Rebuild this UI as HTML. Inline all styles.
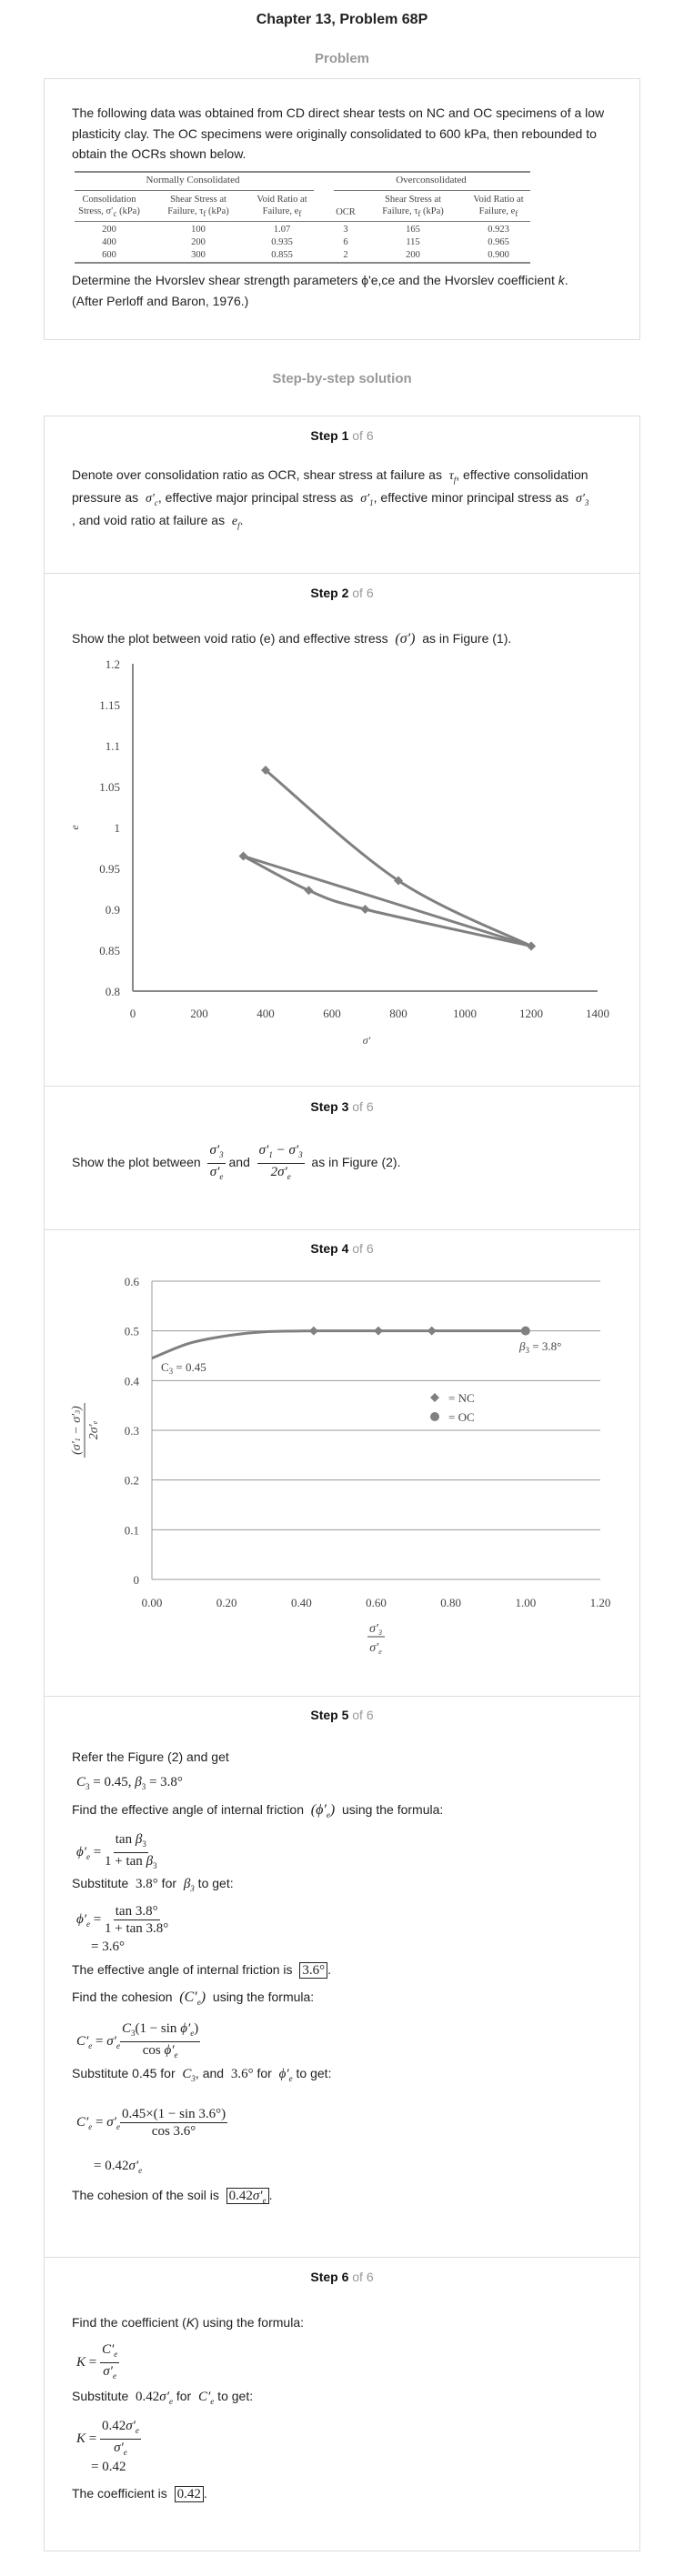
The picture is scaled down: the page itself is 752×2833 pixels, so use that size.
<!DOCTYPE html>
<html><head><meta charset="utf-8">
<style>
*{margin:0;padding:0;box-sizing:border-box}
body{width:752px;height:2833px;background:#fff;position:relative;font-family:"Liberation Sans",Arial,sans-serif;color:#222;overflow:hidden}
.a{position:absolute;white-space:nowrap}
.t{font-size:14px;line-height:20px;left:79px}
.box{position:absolute;border:1px solid #ddd;left:48px;width:656px}
.hr{position:absolute;left:49px;width:654px;height:1px;background:#ddd}
.step{position:absolute;left:0;width:752px;text-align:center;font-weight:bold;font-size:14px;line-height:18px;color:#111}
.step span{font-weight:normal;color:#999}
.m{font-family:"Liberation Serif",serif;font-style:italic}
.mr{font-family:"Liberation Serif",serif}
.fr{display:inline-flex;flex-direction:column;align-items:center;vertical-align:middle;font-family:"Liberation Serif",serif;font-size:15px;line-height:18px}
.fr .n{border-bottom:1px solid #222;padding:0 2px}
.boxed{border:1px solid #222;padding:0 2px;font-family:"Liberation Serif",serif;font-size:15px}
sub{font-size:9px}
.tb{font-family:"Liberation Serif",serif;font-size:10.5px;color:#444;text-align:center;transform:translateX(-50%);line-height:13px}
.tl{position:absolute;height:1px;background:#777}
</style></head><body>
<div class="a" style="left:0;width:752px;text-align:center;top:13px;font-weight:bold;font-size:16px">Chapter 13, Problem 68P</div>
<div class="a" style="left:0;width:752px;text-align:center;top:56px;font-weight:bold;font-size:15px;color:#999">Problem</div>
<div class="box" style="top:86px;height:288px"></div>
<div class="a t" style="top:114px">The following data was obtained from CD direct shear tests on NC and OC specimens of a low</div>
<div class="a t" style="top:137px">plasticity clay. The OC specimens were originally consolidated to 600 kPa, then rebounded to</div>
<div class="a t" style="top:159px">obtain the OCRs shown below.</div>

<div>
<div class="tl" style="left:82px;width:501px;top:188px;height:2px;background:#888"></div>
<div class="a tb" style="left:212px;top:192px;font-size:11px">Normally Consolidated</div>
<div class="a tb" style="left:474px;top:192px;font-size:11px">Overconsolidated</div>
<div class="tl" style="left:82px;width:263px;top:209px"></div>
<div class="tl" style="left:367px;width:216px;top:209px"></div>
<div class="a tb" style="left:120px;top:213px">Consolidation<br>Stress, σ′<sub>c</sub> (kPa)</div>
<div class="a tb" style="left:218px;top:213px">Shear Stress at<br>Failure, τ<sub>f</sub> (kPa)</div>
<div class="a tb" style="left:310px;top:213px">Void Ratio at<br>Failure, e<sub>f</sub></div>
<div class="a tb" style="left:380px;top:227px">OCR</div>
<div class="a tb" style="left:454px;top:213px">Shear Stress at<br>Failure, τ<sub>f</sub> (kPa)</div>
<div class="a tb" style="left:548px;top:213px">Void Ratio at<br>Failure, e<sub>f</sub></div>
<div class="tl" style="left:82px;width:501px;top:243px"></div>
<div class="a tb" style="left:120px;top:246px;line-height:14px">200<br>400<br>600</div>
<div class="a tb" style="left:218px;top:246px;line-height:14px">100<br>200<br>300</div>
<div class="a tb" style="left:310px;top:246px;line-height:14px">1.07<br>0.935<br>0.855</div>
<div class="a tb" style="left:380px;top:246px;line-height:14px">3<br>6<br>2</div>
<div class="a tb" style="left:454px;top:246px;line-height:14px">165<br>115<br>200</div>
<div class="a tb" style="left:548px;top:246px;line-height:14px">0.923<br>0.965<br>0.900</div>
<div class="tl" style="left:82px;width:501px;top:288px;height:2px;background:#888"></div>
</div>

<div class="a t" style="top:298px">Determine the Hvorslev shear strength parameters ϕ'e,ce and the Hvorslev coefficient <i>k</i>.</div>
<div class="a t" style="top:321px">(After Perloff and Baron, 1976.)</div>

<div class="a" style="left:0;width:752px;text-align:center;top:408px;font-weight:bold;font-size:15px;color:#999">Step-by-step solution</div>
<div class="box" style="top:457px;height:2349px"></div>
<div class="hr" style="top:630px"></div>
<div class="hr" style="top:1194px"></div>
<div class="hr" style="top:1352px"></div>
<div class="hr" style="top:1865px"></div>
<div class="hr" style="top:2482px"></div>

<div class="step" style="top:470px">Step 1 <span>of 6</span></div>
<div class="a t" style="top:512px">Denote over consolidation ratio as OCR, shear stress at failure as &nbsp;<span class="m">τ<sub>f</sub></span>, effective consolidation</div>
<div class="a t" style="top:537px">pressure as &nbsp;<span class="m">σ′<sub>c</sub></span>, effective major principal stress as &nbsp;<span class="m">σ′<sub>1</sub></span>, effective minor principal stress as &nbsp;<span class="m">σ′<sub>3</sub></span></div>
<div class="a t" style="top:562px">, and void ratio at failure as &nbsp;<span class="m">e<sub>f</sub></span>.</div>

<div class="step" style="top:643px">Step 2 <span>of 6</span></div>
<div class="a t" style="top:692px">Show the plot between void ratio (e) and effective stress &nbsp;<span class="m" style="font-size:16px">(σ′)</span>&nbsp; as in Figure (1).</div>

<svg class="a" id="c1" style="left:0;top:0" width="752" height="1200" font-family="Liberation Serif, serif" font-size="13" fill="#444"></svg>

<div class="step" style="top:1208px">Step 3 <span>of 6</span></div>
<div class="a t" style="top:1256px;line-height:40px">Show the plot between &nbsp;<span class="fr m"><span class="n">σ′<sub>3</sub></span><span>σ′<sub>e</sub></span></span> and &nbsp;<span class="fr m"><span class="n">σ′<sub>1</sub> − σ′<sub>3</sub></span><span>2σ′<sub>e</sub></span></span>&nbsp; as in Figure (2).</div>

<div class="step" style="top:1364px">Step 4 <span>of 6</span></div>
<svg class="a" id="c2" style="left:0;top:0" width="752" height="1830" font-family="Liberation Serif, serif" font-size="13" fill="#444"></svg>

<div class="step" style="top:1877px">Step 5 <span>of 6</span></div>
<div class="a t" style="top:1922px">Refer the Figure (2) and get</div>
<div class="a t mr" style="top:1950px;left:84px;font-size:15px"><i>C</i><sub>3</sub> = 0.45, <i>β</i><sub>3</sub> = 3.8°</div>
<div class="a t" style="top:1980px">Find the effective angle of internal friction &nbsp;<span class="m" style="font-size:16px">(ϕ′<sub>e</sub>)</span>&nbsp; using the formula:</div>
<div class="a mr" style="top:2014px;left:84px;font-size:15px;line-height:36px"><i>ϕ′<sub>e</sub></i> = <span class="fr"><span class="n">tan <i>β</i><sub>3</sub></span><span>1 + tan <i>β</i><sub>3</sub></span></span></div>
<div class="a t" style="top:2061px">Substitute &nbsp;<span class="mr" style="font-size:15px">3.8°</span> for &nbsp;<span class="m" style="font-size:15px">β<sub>3</sub></span> to get:</div>
<div class="a mr" style="top:2093px;left:84px;font-size:15px;line-height:36px"><i>ϕ′<sub>e</sub></i> = <span class="fr"><span class="n">tan 3.8°</span><span>1 + tan 3.8°</span></span></div>
<div class="a mr" style="top:2131px;left:100px;font-size:15px;line-height:20px">= 3.6°</div>
<div class="a t" style="top:2156px">The effective angle of internal friction is &nbsp;<span class="boxed">3.6°</span>.</div>
<div class="a t" style="top:2186px">Find the cohesion &nbsp;<span class="m" style="font-size:16px">(C′<sub>e</sub>)</span>&nbsp; using the formula:</div>
<div class="a mr" style="top:2222px;left:84px;font-size:15px;line-height:36px"><i>C′<sub>e</sub></i> = <i>σ′<sub>e</sub></i><span class="fr"><span class="n"><i>C</i><sub>3</sub>(1 − sin <i>ϕ′<sub>e</sub></i>)</span><span>cos <i>ϕ′<sub>e</sub></i></span></span></div>
<div class="a t" style="top:2270px">Substitute 0.45 for &nbsp;<span class="m" style="font-size:15px">C<sub>3</sub></span>, and &nbsp;<span class="mr" style="font-size:15px">3.6°</span> for &nbsp;<span class="m" style="font-size:15px">ϕ′<sub>e</sub></span> to get:</div>
<div class="a mr" style="top:2316px;left:84px;font-size:15px;line-height:36px"><i>C′<sub>e</sub></i> = <i>σ′<sub>e</sub></i><span class="fr"><span class="n">0.45×(1 − sin 3.6°)</span><span>cos 3.6°</span></span></div>
<div class="a mr" style="top:2372px;left:103px;font-size:15px;line-height:20px">= 0.42<i>σ′<sub>e</sub></i></div>
<div class="a t" style="top:2404px">The cohesion of the soil is &nbsp;<span class="boxed">0.42<i>σ′<sub>e</sub></i></span>.</div>

<div class="step" style="top:2495px">Step 6 <span>of 6</span></div>
<div class="a t" style="top:2544px">Find the coefficient (<i>K</i>) using the formula:</div>
<div class="a mr" style="top:2575px;left:84px;font-size:15px;line-height:36px"><i>K</i> = <span class="fr"><span class="n"><i>C′<sub>e</sub></i></span><span><i>σ′<sub>e</sub></i></span></span></div>
<div class="a t" style="top:2625px">Substitute &nbsp;<span class="mr" style="font-size:15px">0.42<i>σ′<sub>e</sub></i></span> for &nbsp;<span class="m" style="font-size:15px">C′<sub>e</sub></span> to get:</div>
<div class="a mr" style="top:2659px;left:84px;font-size:15px;line-height:36px"><i>K</i> = <span class="fr"><span class="n">0.42<i>σ′<sub>e</sub></i></span><span><i>σ′<sub>e</sub></i></span></span></div>
<div class="a mr" style="top:2703px;left:100px;font-size:15px;line-height:20px">= 0.42</div>
<div class="a t" style="top:2732px">The coefficient is &nbsp;<span class="boxed">0.42</span>.</div>

<script>
// Chart 1 data
const c1XTicks = [0,200,400,600,800,1000,1200,1400];
const c1YTicks = [0.8,0.85,0.9,0.95,1,1.05,1.1,1.15,1.2];
const c1YLabels = ["0.8","0.85","0.9","0.95","1","1.05","1.1","1.15","1.2"];
const ncStress = [400,800,1200];
const ncVoid = [1.07,0.935,0.855];
const ocStress = [333,530,700,1200];
const ocVoid = [0.965,0.923,0.9,0.855];
const ocChordStress = [333,1200];
const ocChordVoid = [0.965,0.855];
// Chart 2 data
const c2XTicks = [0,0.2,0.4,0.6,0.8,1.0,1.2];
const c2YTicks = [0,0.1,0.2,0.3,0.4,0.5,0.6];
const c2YLabels = ["0","0.1","0.2","0.3","0.4","0.5","0.6"];
const ncRatio = [0.433,0.606,0.749];
const ncStressRatio = [0.5,0.5,0.5];
const ocRatio = [1.0];
const ocStressRatio = [0.5];
const fitRatio = [0,0.1,0.2,0.3,0.433];
const fitValue = [0.445,0.475,0.49,0.498,0.5];

const NS='http://www.w3.org/2000/svg';
function mk(svg,tag,at){const e=document.createElementNS(NS,tag);for(const k in at)e.setAttribute(k,at[k]);svg.appendChild(e);return e;}
function smooth(pts){let d='M'+pts[0][0]+','+pts[0][1];for(let i=0;i<pts.length-1;i++){const p0=pts[i-1]||pts[i],p1=pts[i],p2=pts[i+1],p3=pts[i+2]||p2;const t=0.5/3;d+=' C'+(p1[0]+(p2[0]-p0[0])*t)+','+(p1[1]+(p2[1]-p0[1])*t)+' '+(p2[0]-(p3[0]-p1[0])*t)+','+(p2[1]-(p3[1]-p1[1])*t)+' '+p2[0]+','+p2[1];}return d;}
function diamond(svg,x,y,r,name){const e=mk(svg,'polygon',{points:`${x},${y-r} ${x+r},${y} ${x},${y+r} ${x-r},${y}`,fill:'#808080'});return e;}

// chart 1
(function(){
const s=document.getElementById('c1');
const X=v=>146+v*511/1400, Y=v=>1090-(v-0.8)*900;
mk(s,'line',{x1:X(0),y1:Y(1.2),x2:X(0),y2:Y(0.8),stroke:'#888','stroke-width':2});
mk(s,'line',{x1:X(0),y1:Y(0.8),x2:X(1400),y2:Y(0.8),stroke:'#888','stroke-width':2});
c1YTicks.forEach((v,i)=>{const t=mk(s,'text',{x:132,y:Y(v)+5,'text-anchor':'end'});t.textContent=c1YLabels[i];

});
c1XTicks.forEach(v=>{const t=mk(s,'text',{x:X(v),y:1119,'text-anchor':'middle'});t.textContent=v;

});
const xt=mk(s,'text',{x:403,y:1148,'text-anchor':'middle','font-style':'italic',"font-size":12});xt.textContent="σ'";


const yt=mk(s,'text',{x:86,y:910,'text-anchor':'middle','font-style':'italic',"font-size":12,transform:'rotate(-90 86 910)'});yt.textContent="e";


const nc=mk(s,'path',{d:smooth(ncStress.map((v,i)=>[X(v),Y(ncVoid[i])])),fill:'none',stroke:'#808080','stroke-width':3});


const oc=mk(s,'path',{d:smooth(ocStress.map((v,i)=>[X(v),Y(ocVoid[i])])),fill:'none',stroke:'#808080','stroke-width':3});


const ch=mk(s,'path',{d:smooth(ocChordStress.map((v,i)=>[X(v),Y(ocChordVoid[i])])),fill:'none',stroke:'#808080','stroke-width':3});


ncStress.forEach((v,i)=>diamond(s,X(v),Y(ncVoid[i]),5,'nc-point'));
ocStress.forEach((v,i)=>diamond(s,X(v),Y(ocVoid[i]),5,'oc-point'));
})();

// chart 2
(function(){
const s=document.getElementById('c2');
const X=v=>167+v*493/1.2, Y=v=>1737-v*546.7;
c2YTicks.forEach((v,i)=>{const g=mk(s,'line',{x1:X(0),y1:Y(v),x2:X(1.2),y2:Y(v),stroke:'#999','stroke-width':1});


const t=mk(s,'text',{x:153,y:Y(v)+5,'text-anchor':'end'});t.textContent=c2YLabels[i];

});
mk(s,'line',{x1:X(0),y1:Y(0.6),x2:X(0),y2:Y(0),stroke:'#999','stroke-width':1});
c2XTicks.forEach(v=>{const t=mk(s,'text',{x:X(v),y:1767,'text-anchor':'middle'});t.textContent=v.toFixed(2);

});
const fit=mk(s,'path',{d:smooth(fitRatio.map((v,i)=>[X(v),Y(fitValue[i])])),fill:'none',stroke:'#808080','stroke-width':3});


const all=ncRatio.map((v,i)=>[X(v),Y(ncStressRatio[i])]).concat(ocRatio.map((v,i)=>[X(v),Y(ocStressRatio[i])]));
const ln=mk(s,'path',{d:smooth(all),fill:'none',stroke:'#808080','stroke-width':3});


ncRatio.forEach((v,i)=>diamond(s,X(v),Y(ncStressRatio[i]),5,'nc-point'));
ocRatio.forEach((v,i)=>{const c=mk(s,'circle',{cx:X(v),cy:Y(ocStressRatio[i]),r:5,fill:'#808080'});

});
const l1=mk(s,'text',{x:177,y:1508,'font-size':13});l1.innerHTML='C<tspan font-size="9" dy="3">3</tspan><tspan dy="-3"> = 0.45</tspan>';


const l2=mk(s,'text',{x:571,y:1485,'font-size':13});l2.innerHTML='<tspan font-style="italic">β</tspan><tspan font-size="9" dy="3">3</tspan><tspan dy="-3"> = 3.8°</tspan>';


diamond(s,478,1537,5,'legend-nc-marker');
const lc=mk(s,'circle',{cx:478,cy:1558,r:5,fill:'#808080'});


const t1=mk(s,'text',{x:493,y:1542});t1.textContent='= NC';


const t2=mk(s,'text',{x:493,y:1563});t2.textContent='= OC';


const xn=mk(s,'text',{x:413,y:1795,'text-anchor':'middle','font-style':'italic','font-size':14});xn.innerHTML="σ′<tspan font-size='8' dy='3'>3</tspan>";


mk(s,'line',{x1:404,y1:1800,x2:423,y2:1800,stroke:'#444','stroke-width':1});
const xd=mk(s,'text',{x:413,y:1816,'text-anchor':'middle','font-style':'italic','font-size':14});xd.innerHTML="σ′<tspan font-size='8' dy='3'>e</tspan>";


const g=mk(s,'g',{transform:'translate(93 1573) rotate(-90)'});


const yn=mk(g,'text',{x:0,y:-5,'text-anchor':'middle','font-style':'italic','font-size':14});yn.innerHTML="(σ′<tspan font-size='8'>1</tspan> − σ′<tspan font-size='8'>3</tspan>)";
mk(g,'line',{x1:-30,y1:0,x2:30,y2:0,stroke:'#444','stroke-width':1});
const yd=mk(g,'text',{x:0,y:14,'text-anchor':'middle','font-style':'italic','font-size':14});yd.innerHTML="2σ′<tspan font-size='8'>e</tspan>";
})();
</script>
</body></html>
